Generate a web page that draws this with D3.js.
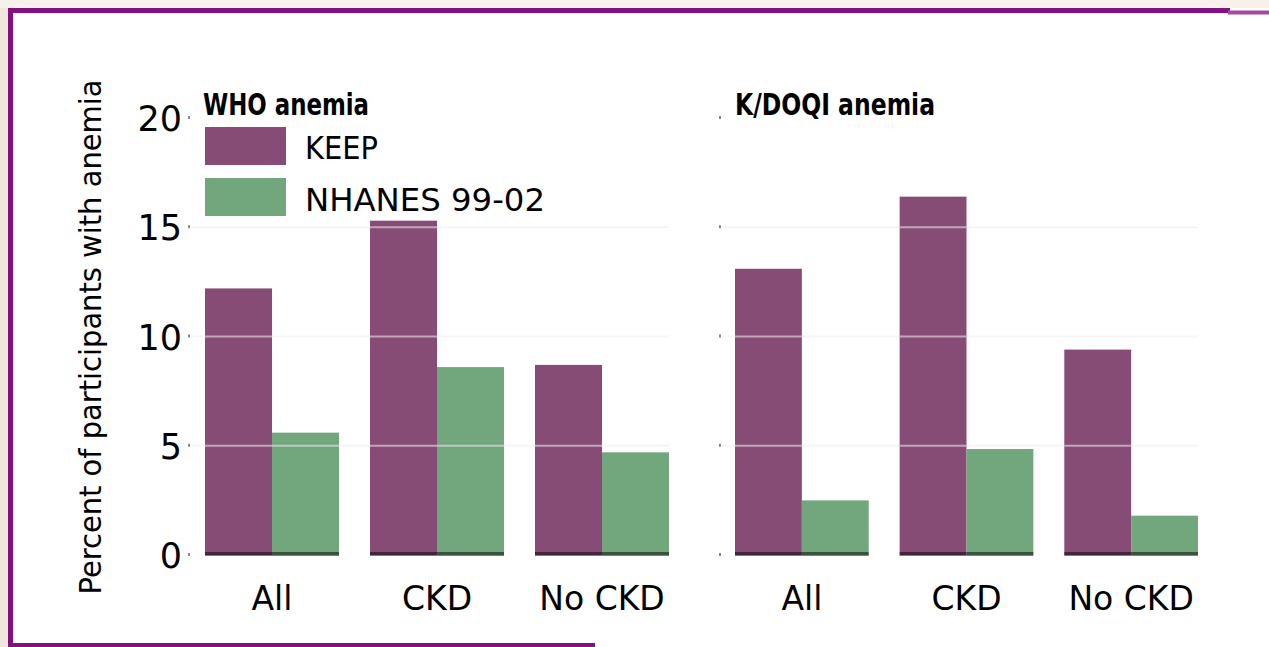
<!DOCTYPE html>
<html>
<head>
<meta charset="utf-8">
<script src="https://cdn.jsdelivr.net/npm/d3@7"></script>
<style>
  html, body { margin: 0; padding: 0; background: #ffffff; }
  svg { display: block; }
</style>
</head>
<body>
<script>
// ---- data ----
const categories = ["All", "CKD", "No CKD"];
const seriesNames = ["KEEP", "NHANES 99-02"];
const whoKEEP = [12.2, 15.3, 8.7];
const whoNHANES = [5.6, 8.6, 4.7];
const kdoqiKEEP = [13.1, 16.4, 9.4];
const kdoqiNHANES = [2.5, 4.85, 1.8];
const yTicks = [0, 5, 10, 15, 20];
const panelTitles = ["WHO anemia", "K/DOQI anemia"];
const yAxisTitle = "Percent of participants with anemia";

const W = 1269, H = 647;
const colors = { "KEEP": "#874C76", "NHANES 99-02": "#72A77D" };
const sans = "'DejaVu Sans', 'Liberation Sans', sans-serif";
const condensed = "'Liberation Sans Narrow', 'DejaVu Sans Condensed', 'Liberation Sans', sans-serif";

const svg = d3.select("body").append("svg").attr("width", W).attr("height", H);

// background paper edge + frame
svg.append("rect").attr("x", 0).attr("y", 0).attr("width", W).attr("height", H).attr("fill", "#ffffff");
svg.append("rect").attr("x", 0).attr("y", 0).attr("width", 8).attr("height", H).attr("fill", "#efe7dc");
svg.append("rect").attr("x", 0).attr("y", 0).attr("width", W).attr("height", 8).attr("fill", "#f6f1ea");
const frame = "#82107F";
svg.append("line").attr("x1", 8).attr("x2", 1230).attr("y1", 10.5).attr("y2", 10.5).attr("stroke", frame).attr("stroke-width", 5);
svg.append("line").attr("x1", 1228).attr("x2", W).attr("y1", 12.5).attr("y2", 12.5).attr("stroke", "#A04A9E").attr("stroke-width", 4);
svg.append("line").attr("x1", 10.5).attr("x2", 10.5).attr("y1", 8).attr("y2", 647).attr("stroke", frame).attr("stroke-width", 5);
svg.append("line").attr("x1", 8).attr("x2", 595).attr("y1", 645).attr("y2", 645).attr("stroke", frame).attr("stroke-width", 4);

// scales
const y = d3.scaleLinear().domain([0, 20]).range([555, 118]);

const panels = [
  { title: panelTitles[0], keep: whoKEEP, nh: whoNHANES, range: [205, 669], axisX: 189, titleX: 203, titleW: 166, labels: true },
  { title: panelTitles[1], keep: kdoqiKEEP, nh: kdoqiNHANES, range: [735, 1198], axisX: 720, titleX: 735, titleW: 200, labels: false }
];

panels.forEach(p => {
  const x0 = d3.scaleBand().domain(categories).range(p.range).paddingInner(31 / 165).paddingOuter(0);
  const x1 = d3.scaleBand().domain(seriesNames).range([0, x0.bandwidth()]);
  const g = svg.append("g");

  const rows = categories.map((c, i) => ({ cat: c, vals: [
    { s: seriesNames[0], v: p.keep[i] },
    { s: seriesNames[1], v: p.nh[i] }
  ]}));

  // very faint full-width gridlines
  g.selectAll("line.gridbg").data(yTicks.filter(t => t > 0 && t < 20)).enter().append("line")
    .attr("x1", p.axisX + 2).attr("x2", p.range[1])
    .attr("y1", d => y(d)).attr("y2", d => y(d))
    .attr("stroke", "#f7f4f7").attr("stroke-width", 2);

  const grp = g.selectAll("g.grp").data(rows).enter().append("g")
    .attr("transform", d => `translate(${x0(d.cat)},0)`);
  grp.selectAll("rect.bar").data(d => d.vals).enter().append("rect")
    .attr("x", d => x1(d.s))
    .attr("width", x1.bandwidth())
    .attr("y", d => y(d.v))
    .attr("height", d => y(0) - y(d.v))
    .attr("fill", d => colors[d.s]);
  // gridlines across bars
  grp.each(function(d) {
    d3.select(this).selectAll("line.grid")
      .data(d.vals.flatMap(v => yTicks.filter(t => t > 0 && t < v.v).map(t => ({ s: v.s, t }))))
      .enter().append("line")
      .attr("x1", v => x1(v.s)).attr("x2", v => x1(v.s) + x1.bandwidth())
      .attr("y1", v => y(v.t)).attr("y2", v => y(v.t))
      .attr("stroke", "rgba(235,225,235,0.6)").attr("stroke-width", 2);
  });
  // dark bottom edge
  grp.selectAll("rect.base").data(d => d.vals).enter().append("rect")
    .attr("x", d => x1(d.s))
    .attr("width", x1.bandwidth())
    .attr("y", y(0) - 3)
    .attr("height", 4)
    .attr("fill", "#000").attr("opacity", 0.5);

  // axis ticks (tiny dots)
  const axis = d3.axisLeft(y).tickValues(yTicks).tickSize(0).tickPadding(8)
    .tickFormat(p.labels ? d3.format("d") : () => "");
  const ag = g.append("g").attr("transform", `translate(${p.axisX},0)`).call(axis);
  ag.select(".domain").remove();
  ag.selectAll("text").attr("font-family", sans).attr("font-size", 35).attr("fill", "#000")
    .attr("x", -7).attr("dy", "0.36em");
  g.selectAll("rect.tick").data(yTicks).enter().append("rect")
    .attr("x", p.axisX - 1).attr("y", d => y(d) - 2).attr("width", 2).attr("height", 3)
    .attr("fill", "#888");

  // x labels
  g.selectAll("text.xl").data(categories).enter().append("text")
    .attr("x", d => x0(d) + x0.bandwidth() / 2)
    .attr("y", 610)
    .attr("text-anchor", "middle")
    .attr("font-family", sans).attr("font-size", 33).attr("fill", "#000")
    .text(d => d);

  // title
  g.append("text").attr("x", p.titleX).attr("y", 115)
    .attr("font-family", condensed).attr("font-weight", "bold").attr("font-size", 31)
    .attr("textLength", p.titleW).attr("lengthAdjust", "spacingAndGlyphs")
    .attr("fill", "#000").text(p.title);
});

// legend
const legend = svg.append("g");
seriesNames.forEach((s, i) => {
  legend.append("rect").attr("x", 205).attr("y", 127 + i * 51).attr("width", 81).attr("height", 38)
    .attr("fill", colors[s]);
  legend.append("text").attr("x", 305).attr("y", 159 + i * 52)
    .attr("font-family", sans).attr("font-size", 32).attr("fill", "#000")
    .attr("textLength", i === 0 ? 73 : 240).attr("lengthAdjust", "spacingAndGlyphs")
    .text(s);
});

// y axis title
svg.append("text")
  .attr("transform", `translate(101,337) rotate(-90)`)
  .attr("text-anchor", "middle")
  .attr("font-family", sans).attr("font-size", 30).attr("fill", "#000")
  .attr("textLength", 515).attr("lengthAdjust", "spacingAndGlyphs")
  .text(yAxisTitle);
</script>
</body>
</html>
